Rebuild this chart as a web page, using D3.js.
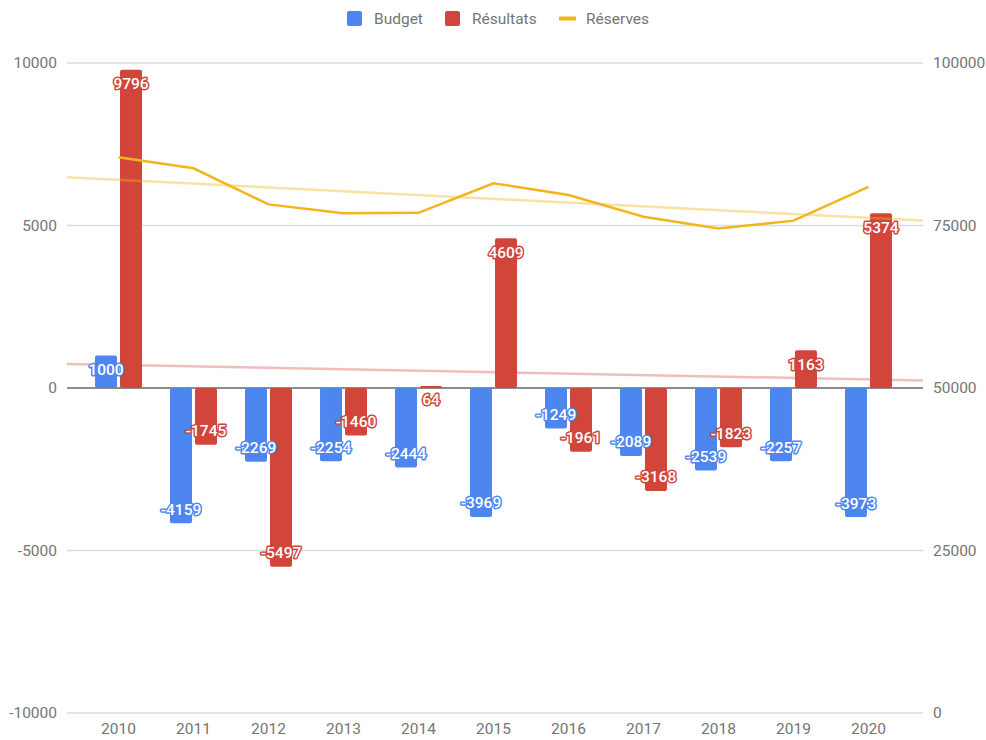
<!DOCTYPE html>
<meta charset="utf-8">
<title>Budget, résultats et réserves</title>
<style>
body { margin: 0; background: #fff; }
text { font-family: Roboto, "Noto Sans", sans-serif; }
.tick-label { font-size: 15.5px; fill: #757575; }
.legend text { font-size: 15.5px; fill: #757575; }
.bar-label { font-size: 15.5px; font-weight: 500; fill: #fff; stroke-width: 3px; paint-order: stroke; stroke-linejoin: round; }
</style>
<body>
<svg width="986" height="740" id="svg"></svg>
<script src="https://d3js.org/d3.v7.min.js"></script>
<script>

var years = [2010, 2011, 2012, 2013, 2014, 2015, 2016, 2017, 2018, 2019, 2020];
var budget = [1000, -4159, -2269, -2254, -2444, -3969, -1249, -2089, -2539, -2257, -3973];
var resultats = [9796, -1745, -5497, -1460, 64, 4609, -1961, -3168, -1823, 1163, 5374];
var reserves = [85500, 83800, 78250, 76900, 76950, 81500, 79700, 76350, 74550, 75750, 80950];

var leftTicks = [-10000, -5000, 0, 5000, 10000];
var rightTicks = [0, 25000, 50000, 75000, 100000];

var blue = "#4e86ef", red = "#d1453b", yellow = "#f2b51d";

var svg = d3.select("svg"),
    plotLeft = 67, plotRight = 923, plotTop = 63, plotBottom = 713;

var x = d3.scaleLinear().domain([2009.313, 2020.727]).range([plotLeft, plotRight]);
var y = d3.scaleLinear().domain([-10000, 10000]).range([plotBottom, plotTop]);
var y2 = d3.scaleLinear().domain([0, 100000]).range([plotBottom, plotTop]);

// grid lines
svg.append("g").selectAll("line")
  .data(leftTicks)
  .enter().append("line")
    .attr("x1", plotLeft).attr("x2", plotRight)
    .attr("y1", function(d) { return y(d); })
    .attr("y2", function(d) { return y(d); })
    .attr("stroke", function(d) { return d === 0 ? "#666" : "#d2e0e4"; })
    .attr("stroke-width", 1.5);

// left axis labels
svg.append("g").selectAll("text")
  .data(leftTicks)
  .enter().append("text")
    .attr("class", "tick-label")
    .attr("x", 57)
    .attr("y", function(d) { return y(d); })
    .attr("dy", "0.35em")
    .attr("text-anchor", "end")
    .text(function(d) { return d; });

// right axis labels
svg.append("g").selectAll("text")
  .data(rightTicks)
  .enter().append("text")
    .attr("class", "tick-label")
    .attr("x", 933)
    .attr("y", function(d) { return y2(d); })
    .attr("dy", "0.35em")
    .text(function(d) { return d; });

// year labels
svg.append("g").selectAll("text")
  .data(years)
  .enter().append("text")
    .attr("class", "tick-label")
    .attr("x", function(d) { return x(d); })
    .attr("y", 734)
    .attr("text-anchor", "middle")
    .text(function(d) { return d; });

var barW = 22;
var series = [
  { name: "Budget", values: budget, color: blue, off: -23.5 },
  { name: "Résultats", values: resultats, color: red, off: 1.5 }
];

series.forEach(function(s) {
  var g = svg.append("g");
  g.selectAll("rect")
    .data(s.values)
    .enter().append("rect")
      .attr("x", function(d, i) { return x(years[i]) + s.off; })
      .attr("y", function(d) { return y(Math.max(0, d)); })
      .attr("width", barW)
      .attr("height", function(d) { return Math.abs(y(d) - y(0)); })
      .attr("rx", 2)
      .attr("fill", s.color);
});

// trend lines (least squares)
function trend(vals) {
  var n = vals.length,
      mx = d3.mean(years), my = d3.mean(vals),
      sxy = 0, sxx = 0;
  for (var i = 0; i < n; i++) {
    sxy += (years[i] - mx) * (vals[i] - my);
    sxx += (years[i] - mx) * (years[i] - mx);
  }
  var b = sxy / sxx;
  return function(t) { return my + b * (t - mx); };
}

var dom = x.domain();
var tRes = trend(resultats);
svg.append("line")
  .attr("x1", x(dom[0])).attr("x2", x(dom[1]))
  .attr("y1", y(tRes(dom[0]))).attr("y2", y(tRes(dom[1])))
  .attr("stroke", red).attr("stroke-opacity", 0.35).attr("stroke-width", 2.5);

var tRsv = trend(reserves);
svg.append("line")
  .attr("x1", x(dom[0])).attr("x2", x(dom[1]))
  .attr("y1", y2(tRsv(dom[0]))).attr("y2", y2(tRsv(dom[1])))
  .attr("stroke", yellow).attr("stroke-opacity", 0.4).attr("stroke-width", 2.5);

// reserves line
var line = d3.line()
  .x(function(d, i) { return x(years[i]); })
  .y(function(d) { return y2(d); });

svg.append("path")
  .datum(reserves)
  .attr("d", line)
  .attr("fill", "none")
  .attr("stroke", yellow)
  .attr("stroke-width", 2.5);

// bar labels
series.forEach(function(s) {
  svg.append("g").selectAll("text")
    .data(s.values)
    .enter().append("text")
      .attr("class", "bar-label")
      .attr("stroke", s.color)
      .attr("x", function(d, i) { return x(years[i]) + s.off + barW / 2; })
      .attr("y", function(d) { return y(d) + (d >= 0 ? 14 : -14); })
      .attr("dy", "0.35em")
      .attr("text-anchor", "middle")
      .text(function(d) { return d; });
});

// legend
var legend = svg.append("g").attr("class", "legend");
legend.append("rect").attr("x", 347).attr("y", 11).attr("width", 15).attr("height", 15).attr("rx", 2).attr("fill", blue);
legend.append("text").attr("x", 374).attr("y", 24).text("Budget");
legend.append("rect").attr("x", 445).attr("y", 11).attr("width", 15).attr("height", 15).attr("rx", 2).attr("fill", red);
legend.append("text").attr("x", 472).attr("y", 24).text("Résultats");
legend.append("line").attr("x1", 559).attr("x2", 576).attr("y1", 18.5).attr("y2", 18.5).attr("stroke", yellow).attr("stroke-width", 4);
legend.append("text").attr("x", 586).attr("y", 24).text("Réserves");

</script>
</body>
